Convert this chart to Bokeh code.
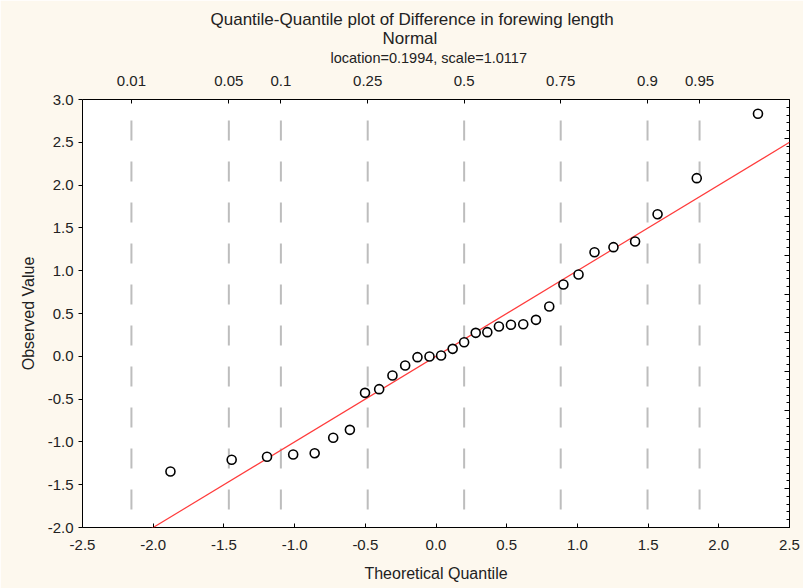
from bokeh.plotting import figure
from bokeh.models import Range1d, LinearAxis, FixedTicker, Title
from bokeh.embed import file_html
from bokeh.resources import INLINE

# ---- data ----
theoretical = [-1.878, -1.445, -1.195, -1.010, -0.858, -0.727, -0.609, -0.502,
               -0.402, -0.308, -0.218, -0.131, -0.046, 0.036, 0.118, 0.199,
               0.281, 0.363, 0.445, 0.530, 0.617, 0.707, 0.801, 0.901,
               1.008, 1.121, 1.255, 1.408, 1.567, 1.844, 2.277]
observed = [-1.346, -1.209, -1.174, -1.147, -1.132, -0.952, -0.859, -0.427,
            -0.384, -0.224, -0.108, -0.010, -0.002, 0.009, 0.087, 0.165,
            0.274, 0.282, 0.348, 0.368, 0.375, 0.426, 0.582, 0.839,
            0.956, 1.216, 1.275, 1.341, 1.660, 2.081, 2.833]
fit_x = [-2.5, 2.5]
fit_y = [-2.5, 2.5]
prob_labels = ["0.01", "0.05", "0.1", "0.25", "0.5", "0.75", "0.9", "0.95"]
prob_positions = [-2.154, -1.465, -1.097, -0.483, 0.199, 0.882, 1.496, 1.864]
x_ticks = [-2.5, -2.0, -1.5, -1.0, -0.5, 0.0, 0.5, 1.0, 1.5, 2.0, 2.5]
y_ticks = [-2.0, -1.5, -1.0, -0.5, 0.0, 0.5, 1.0, 1.5, 2.0, 2.5, 3.0]
right_major = list(range(12))
right_minor = [i / 5 for i in range(56)]

title_text = "Quantile-Quantile plot of Difference in forewing length"
sub1_text = "Normal"
sub2_text = "location=0.1994, scale=1.0117"

FONT = "Liberation Sans"
TXT = "#222222"
BG = "#FDF8EE"

p = figure(width=803, height=588, output_backend="svg", toolbar_location=None,
           x_range=Range1d(-2.5, 2.5), y_range=Range1d(-2.0, 3.0),
           x_axis_location=None, y_axis_location=None)
p.min_border_left = 82
p.min_border_right = 14
p.min_border_top = 99
p.min_border_bottom = 61
p.border_fill_color = BG
p.background_fill_color = "white"
p.outline_line_color = "black"
p.outline_line_width = 1
p.grid.visible = False

def style(ax, size="15px"):
    ax.axis_line_color = None
    ax.major_tick_line_color = "black"
    ax.minor_tick_line_color = "black"
    ax.major_label_text_font = FONT
    ax.major_label_text_font_size = size
    ax.major_label_text_color = TXT
    ax.axis_label_text_font = FONT
    ax.axis_label_text_font_size = "16px"
    ax.axis_label_text_font_style = "normal"
    ax.axis_label_text_color = TXT

left = LinearAxis(ticker=FixedTicker(ticks=y_ticks, minor_ticks=[]),
                  axis_label="Observed Value")
style(left)
left.major_label_overrides = {v: f"{v:.1f}" for v in y_ticks}
left.major_tick_out = 4
left.major_tick_in = 0
left.major_label_standoff = 5
left.axis_label_standoff = 8
p.add_layout(left, "left")

bottom = LinearAxis(ticker=FixedTicker(ticks=x_ticks, minor_ticks=[]),
                    axis_label="Theoretical Quantile")
style(bottom)
bottom.major_label_overrides = {v: f"{v:.1f}" for v in x_ticks}
bottom.major_tick_out = 0
bottom.major_tick_in = 4
bottom.major_label_standoff = 12
bottom.axis_label_standoff = 12
p.add_layout(bottom, "below")

top = LinearAxis(ticker=FixedTicker(ticks=prob_positions, minor_ticks=[]))
style(top)
top.major_label_overrides = dict(zip(prob_positions, prob_labels))
top.major_tick_out = 0
top.major_tick_in = 4
top.major_label_standoff = 14
p.add_layout(top, "above")

p.extra_y_ranges = {"r": Range1d(0, 11)}
right = LinearAxis(y_range_name="r",
                   ticker=FixedTicker(ticks=right_major, minor_ticks=right_minor))
style(right)
right.major_label_overrides = {v: "" for v in right_major}
right.major_label_standoff = 0
right.major_tick_out = 0
right.major_tick_in = 5
right.minor_tick_out = 0
right.minor_tick_in = 3
p.add_layout(right, "right")

# titles (first added sits closest to the plot)
for txt, fs, so, off in [(sub2_text, "14.5px", 13, 248),
                         (sub1_text, "17px", -13, 300),
                         (title_text, "17px", 10, 128)]:
    p.add_layout(Title(text=txt, align="left", text_font=FONT,
                       text_font_size=fs, text_font_style="normal",
                       text_color=TXT, standoff=so, offset=off), "above")

# dashed probability reference lines
p.segment(x0=prob_positions, y0=[y_ticks[0]] * len(prob_positions),
          x1=prob_positions, y1=[y_ticks[-1]] * len(prob_positions),
          line_color="#BDBDBD", line_width=2, line_dash="20 21",
          line_dash_offset=23)

# fitted line
p.line(fit_x, fit_y, line_color="#FF3B3B", line_width=1.2)

# points
p.scatter(theoretical, observed, marker="circle", size=9,
          fill_color="white", line_color="black", line_width=1.6)

open("out.html", "w").write(file_html(p, INLINE))
